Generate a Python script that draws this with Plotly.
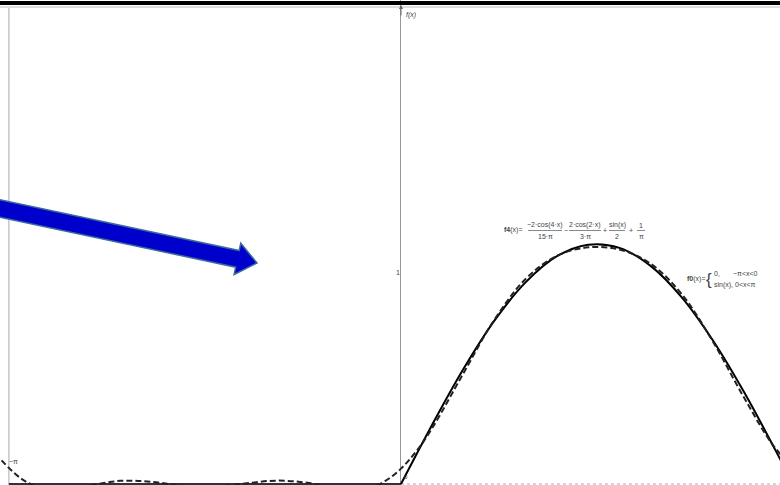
import plotly.graph_objects as go

# ---- data ----
# dashed Fourier approximation f4(x)
f4_x = [-3.25, -3.0, -2.75, -2.5, -2.25, -2.0, -1.75, -1.5, -1.25, -1.0, -0.75, -0.5, -0.25,
        -0.125, 0.0, 0.125, 0.25, 0.5, 0.75, 1.0, 1.25, 1.5, 1.75, 2.0, 2.25, 2.5, 2.75, 3.0, 3.25]
f4_y = [0.127, 0.008, -0.023, -0.006, 0.013, 0.009, -0.007, -0.011, 0.002, 0.014, 0.005, -0.018, -0.015,
        0.013, 0.064, 0.138, 0.233, 0.461, 0.686, 0.855, 0.951, 0.986, 0.977, 0.918, 0.791, 0.593, 0.359, 0.149, 0.019]
# solid f0(x): 0 for -pi<x<0, sin(x) for 0<x<pi
f0_neg_x = [-3.1416, 0.0]
f0_neg_y = [0.0, 0.0]
f0_pos_x = [0.0, 0.25, 0.5, 0.75, 1.0, 1.25, 1.5, 1.75, 2.0, 2.25, 2.5, 2.75, 3.0, 3.1416]
f0_pos_y = [0.0, 0.247, 0.479, 0.682, 0.841, 0.949, 0.997, 0.984, 0.909, 0.778, 0.598, 0.382, 0.141, 0.0]
tick_labels = {"one": "1", "negpi": "−π", "origin": "0", "axis": "f(x)"}

W, H = 780, 485
def px(x):
    return x / W
def py(y):
    return 1 - y / H

fig = go.Figure()
fig.add_trace(go.Scatter(x=f0_neg_x, y=f0_neg_y, mode="lines",
                         line=dict(color="#333", width=2), showlegend=False))
fig.add_trace(go.Scatter(x=f0_pos_x, y=f0_pos_y, mode="lines", line_shape="spline",
                         line=dict(color="black", width=2), showlegend=False))
fig.add_trace(go.Scatter(x=f4_x, y=f4_y, mode="lines", line_shape="spline",
                         line=dict(color="#222", width=2, dash="6px,3px"), showlegend=False))

shapes = []
# x-axis at y=0 (dotted)
shapes.append(dict(type="line", xref="x", yref="y", x0=0, x1=3.1, y0=0, y1=0,
                   line=dict(color="#aaa", width=1, dash="dot"), layer="below"))
# vertical grid line at -pi
shapes.append(dict(type="line", xref="x", yref="paper", x0=-3.1416, x1=-3.1416, y0=0, y1=py(8),
                   line=dict(color="#aaa", width=1), layer="below"))
# top border lines
shapes.append(dict(type="line", xref="paper", yref="paper", x0=0, x1=1, y0=py(3), y1=py(3),
                   line=dict(color="black", width=4)))
shapes.append(dict(type="line", xref="paper", yref="paper", x0=0, x1=1, y0=py(7), y1=py(7),
                   line=dict(color="#bbb", width=1)))

# blue arrow (decoration) built from a start point, tip and widths in pixels
sx, sy = -12.0, 206.0
tx, ty = 257.0, 263.0
L = ((tx - sx) ** 2 + (ty - sy) ** 2) ** 0.5
ux, uy = (tx - sx) / L, (ty - sy) / L
nx, ny = -uy, ux
hw, hl, hh = 8.5, 20.0, 16.0
bx, by = tx - hl * ux, ty - hl * uy
pts = [(sx + hw * nx, sy + hw * ny), (bx + hw * nx, by + hw * ny), (bx + hh * nx, by + hh * ny),
       (tx, ty), (bx - hh * nx, by - hh * ny), (bx - hw * nx, by - hw * ny), (sx - hw * nx, sy - hw * ny)]
path = "M " + " L ".join(f"{px(a):.5f},{py(b):.5f}" for a, b in pts) + " Z"
shapes.append(dict(type="path", xref="paper", yref="paper", path=path,
                   fillcolor="#0000CC", line=dict(color="#3A6B9C", width=1.5)))

# fraction bars for f4 formula
for x0, x1 in [(528, 562), (569, 601), (609, 625), (637, 645)]:
    shapes.append(dict(type="line", xref="paper", yref="paper", x0=px(x0), x1=px(x1),
                       y0=py(230.5), y1=py(230.5), line=dict(color="#555", width=0.7)))

ann = []
fnt = dict(family="Liberation Sans, Arial, sans-serif", size=7, color="#444")
def t(x, y, text, anchor="center", size=7):
    f = dict(fnt)
    f["size"] = size
    ann.append(dict(x=px(x), y=py(y), xref="paper", yref="paper", text=text, showarrow=False,
                    xanchor=anchor, yanchor="middle", font=f))

t(513, 230, "<b>f4</b>(x)=")
t(545, 225, "−2·cos(4·x)")
t(545, 236, "15·π")
t(565.5, 230, "−")
t(585, 225, "2·cos(2·x)")
t(585, 236, "3·π")
t(605, 230, "+")
t(617, 225, "sin(x)")
t(617, 236, "2")
t(631, 230, "+")
t(641, 225, "1")
t(641, 236, "π")

t(696, 279, "<b>f0</b>(x)=")
t(709, 279, "{", size=17)
t(712, 273, "0,", anchor="left")
t(731, 273, "−π<x<0", anchor="left")
t(712, 285, "sin(x), 0<x<π", anchor="left")

t(404, 15, "<i>" + tick_labels["axis"] + "</i>", anchor="left")
t(398, 272, tick_labels["one"])
t(13, 461, tick_labels["negpi"])
t(406, 477, tick_labels["origin"], size=6)

# small arrow head on the y-axis
ann.append(dict(x=0, y=py(5), xref="x", yref="paper", ax=0, ay=12, axref="pixel", ayref="pixel",
                showarrow=True, arrowhead=2, arrowsize=0.8, arrowwidth=1, arrowcolor="#666", text=""))

fig.update_layout(
    width=W, height=H, margin=dict(l=0, r=0, t=0, b=0),
    paper_bgcolor="white", plot_bgcolor="white",
    xaxis=dict(range=[-3.213, 3.037], showgrid=False, showticklabels=False, ticks="",
               zeroline=True, zerolinecolor="#999", zerolinewidth=1, fixedrange=True),
    yaxis=dict(range=[-0.0042, 2.0167], showgrid=False, showticklabels=False, ticks="",
               zeroline=False, fixedrange=True),
    shapes=shapes, annotations=ann, showlegend=False,
)
fig.write_html("out.html", config={"displayModeBar": False},
               post_script="document.body.style.margin='0';document.body.style.overflow='hidden';")
